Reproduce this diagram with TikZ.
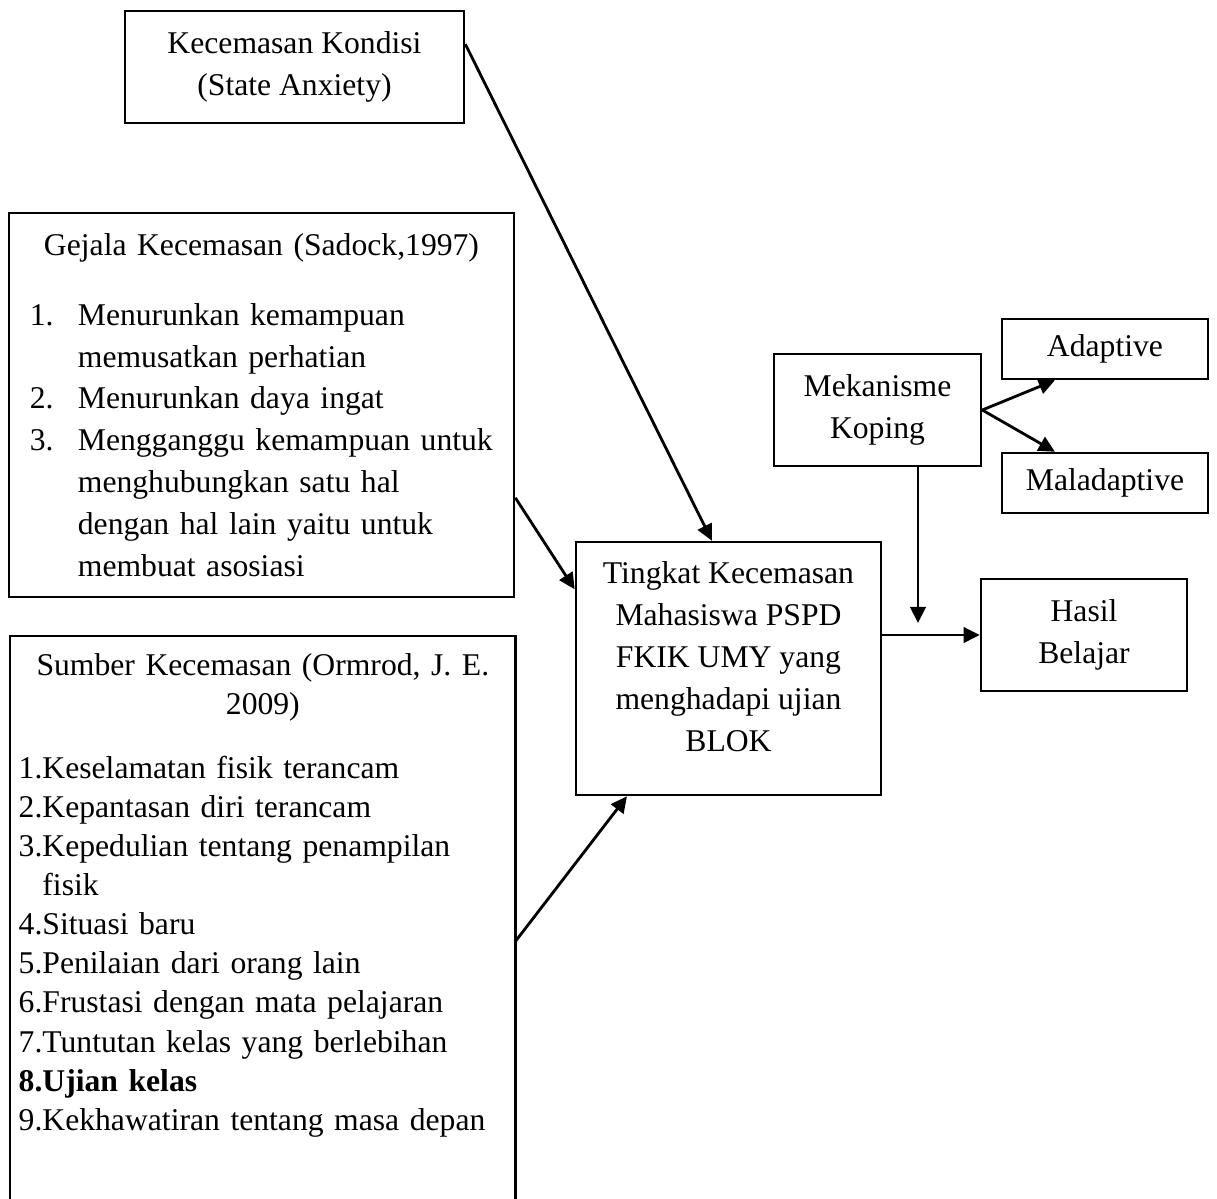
\documentclass[tikz,border=0pt]{standalone}
\usepackage{fontspec}
\setmainfont{Liberation Serif}
\usetikzlibrary{arrows.meta,calc}

\tikzset{
  box/.style={draw, line width=0.7pt, inner sep=0pt, align=center, font=\fontsize{9}{11.9}\selectfont},
  arr/.style={line width=0.8pt, -{Triangle[length=4.6pt,width=4.4pt]}},
}

\begin{document}
\begin{tikzpicture}[x=0.01cm, y=-0.01cm]
\useasboundingbox (0,0) rectangle (1217,1199);

% kotak kiri
\node[box, minimum width=3.39cm, minimum height=1.12cm] (kondisi) at (294.5,67) {Kecemasan Kondisi\\(State Anxiety)};

\node[box, minimum width=5.05cm, minimum height=3.84cm, text width=4.63cm, align=left] (gejala) at (261.5,405) {%
\makebox[\linewidth]{Gejala Kecemasan (Sadock,1997)}\\[0.28cm]
\makebox[0.48cm][l]{1.}Menurunkan kemampuan\\
\hspace*{0.48cm}memusatkan perhatian\\
\makebox[0.48cm][l]{2.}Menurunkan daya ingat\\
\makebox[0.48cm][l]{3.}Mengganggu kemampuan untuk\\
\hspace*{0.48cm}menghubungkan satu hal\\
\hspace*{0.48cm}dengan hal lain yaitu untuk\\
\hspace*{0.48cm}membuat asosiasi};

\node[anchor=north west, inner xsep=0.08cm, inner ysep=0.17cm, text width=4.88cm, align=left, font=\fontsize{9}{11.1}\selectfont] (sumber) at (10,636) {%
\makebox[\linewidth]{Sumber Kecemasan (Ormrod, J. E.}\\
\makebox[\linewidth]{2009)}\\[0.25cm]
1.Keselamatan fisik terancam\\
2.Kepantasan diri terancam\\
3.Kepedulian tentang penampilan\\
\phantom{3.}fisik\\
4.Situasi baru\\
5.Penilaian dari orang lain\\
6.Frustasi dengan mata pelajaran\\
7.Tuntutan kelas yang berlebihan\\
\textbf{8.Ujian kelas}\\
9.Kekhawatiran tentang masa depan};
\coordinate (bawah) at (0,1199);
\draw[line width=0.7pt] (sumber.north west |- bawah) -- (sumber.north west) -- (sumber.north east) -- (sumber.north east |- bawah);

% tengah
\node[box, minimum width=3.05cm, minimum height=2.53cm] (tingkat) at (728.5,668.5) {Tingkat Kecemasan\\Mahasiswa PSPD\\FKIK UMY yang\\menghadapi ujian\\BLOK\rule[-0.24cm]{0pt}{0.24cm}};

% kanan
\node[box, minimum width=2.07cm, minimum height=1.12cm] (koping) at (877.5,410) {Mekanisme\\Koping};
\node[box, minimum width=2.06cm, minimum height=0.6cm] (adaptive) at (1105,349) {Adaptive};
\node[box, minimum width=2.06cm, minimum height=0.6cm] (maladaptive) at (1105,483) {Maladaptive};
\node[box, minimum width=2.06cm, minimum height=1.12cm] (hasil) at (1084,635) {Hasil\\Belajar};
\coordinate (ujung) at (918,623);

% panah
\draw[arr] ($(kondisi.north east)!0.3!(kondisi.south east)$) -- ($(tingkat.north west)!0.446!(tingkat.north east)$);
\draw[arr] ($(gejala.north east)!0.74!(gejala.south east)$) -- ($(tingkat.north west)!0.19!(tingkat.south west)$);
\draw[arr] ($(sumber.north east)+(0,305)$) -- ($(tingkat.south west)!0.17!(tingkat.south east)$);
\draw[arr] (koping.east) -- ($(adaptive.south west)!0.26!(adaptive.south east)$);
\draw[arr] (koping.east) -- ($(maladaptive.north west)!0.26!(maladaptive.north east)$);
\draw[arr] (koping.south -| ujung) -- (ujung);
\draw[arr] (tingkat.east |- hasil.west) -- (hasil.west);
\end{tikzpicture}
\end{document}
